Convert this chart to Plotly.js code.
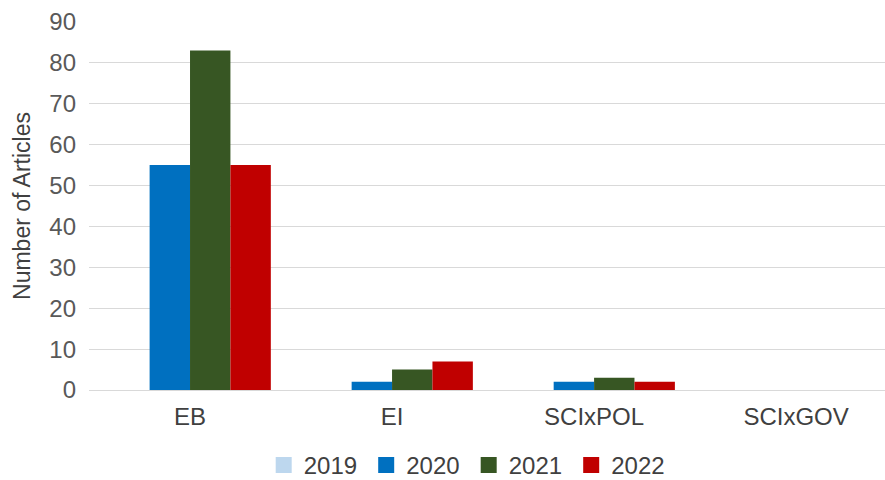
<!DOCTYPE html>
<html>
<head>
<meta charset="utf-8">
<script src="https://cdn.plot.ly/plotly-3.0.1.min.js"></script>
<style>html,body{margin:0;padding:0;background:#fff;}#chart{width:885px;height:480px;}</style>
</head>
<body>
<div id="chart"></div>
<script>
const categories = ["EB", "EI", "SCIxPOL", "SCIxGOV"];
const years = ["2019", "2020", "2021", "2022"];
const values2019 = [0, 0, 0, 0];
const values2020 = [55, 2, 2, 0];
const values2021 = [83, 5, 3, 0];
const values2022 = [55, 7, 2, 0];
const colors = ["#BDD7EE", "#0070C0", "#375623", "#C00000"];
const series = [values2019, values2020, values2021, values2022];

const barTraces = series.map((vals, i) => ({
  type: "bar",
  name: years[i],
  x: categories,
  y: vals,
  showlegend: false,
  legendgroup: years[i],
  marker: {color: colors[i], line: {width: 0}},
  hoverinfo: "x+y+name"
}));
// legend entries with larger square swatches
const legendTraces = years.map((yr, i) => ({
  type: "scatter", mode: "markers", name: yr, legendgroup: yr,
  x: [null], y: [null],
  marker: {symbol: "square", size: 16, color: colors[i]}
}));

const layout = {
  width: 885, height: 480,
  margin: {l: 89, r: 0, t: 22, b: 90, autoexpand: false},
  paper_bgcolor: "#fff", plot_bgcolor: "#fff",
  barmode: "group", bargap: 0.2, bargroupgap: 0,
  font: {family: "Liberation Sans, Arial, sans-serif", size: 24, color: "#595959"},
  xaxis: {
    type: "category",
    range: [-0.5, 3.44], showgrid: false, zeroline: false, automargin: false,
    showline: false, ticks: "", tickfont: {size: 24, color: "#404040"},
    ticklabelstandoff: 10
  },
  yaxis: {
    range: [0, 90], dtick: 10, showgrid: true, gridcolor: "#D9D9D9", gridwidth: 1,
    zeroline: true, zerolinecolor: "#D9D9D9", zerolinewidth: 1, showline: false,
    automargin: false, ticks: "", tickfont: {size: 24, color: "#595959"},
    ticklabelstandoff: 12,
    title: {text: "Number of Articles", font: {size: 23, color: "#404040"}, standoff: 12}
  },
  legend: {
    orientation: "h", x: 0.477, xanchor: "center", y: -0.205, yanchor: "middle",
    font: {size: 24, color: "#404040"}, itemwidth: 30, traceorder: "normal",
    entrywidth: 57.5, entrywidthmode: "pixels"
  },
  showlegend: true
};

Plotly.newPlot("chart", barTraces.concat(legendTraces), layout, {displayModeBar: false, staticPlot: true});
</script>
</body>
</html>
